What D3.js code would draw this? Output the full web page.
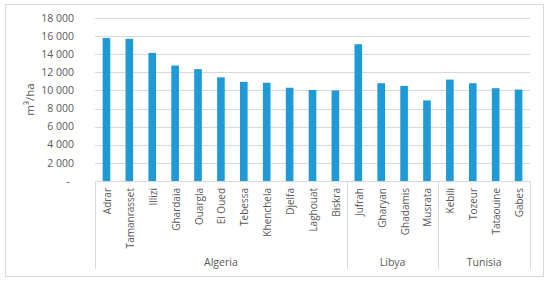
<!DOCTYPE html>
<html><head><meta charset="utf-8">
<script src="https://cdn.jsdelivr.net/npm/d3@7"></script>
<style>body{margin:0;background:#fff}svg{display:block}text{font-family:"Open Sans",sans-serif;fill:#595959}</style>
</head><body>
<script>
const categories = ["Adrar","Tamanrasset","Illizi","Ghardaia","Ouargla","El Oued","Tebessa","Khenchela","Djelfa","Laghouat","Biskra","Jufrah","Gharyan","Ghadamis","Musrata","Kebili","Tozeur","Tataouine","Gabes"];
const countries = ["Algeria","Algeria","Algeria","Algeria","Algeria","Algeria","Algeria","Algeria","Algeria","Algeria","Algeria","Libya","Libya","Libya","Libya","Tunisia","Tunisia","Tunisia","Tunisia"];
const values = [15800,15700,14150,12750,12350,11450,10950,10850,10300,10050,10000,15100,10800,10500,8900,11200,10800,10250,10100];
const yTicks = [0,2000,4000,6000,8000,10000,12000,14000,16000,18000];
const yTitle = "m³/ha";

(function(){
const W=550,H=282;
const svg=d3.select("body").append("svg").attr("width",W).attr("height",H);
svg.append("rect").attr("x",5.5).attr("y",4.5).attr("width",538).attr("height",272).attr("fill","#fff").attr("stroke","#d9d9d9");

const pL=95,pR=530,pT=18,pB=181;
const x=d3.scaleBand().domain(categories).range([pL,pR]).paddingInner(0.667).paddingOuter(0.333);
const xb=d3.scaleBand().domain(categories).range([pL,pR]);
const y=d3.scaleLinear().domain([0,18000]).range([pB,pT]);

svg.append("g").selectAll("line").data(yTicks.filter(d=>d>0)).join("line")
 .attr("x1",pL).attr("x2",pR).attr("y1",d=>Math.round(y(d))+0.5).attr("y2",d=>Math.round(y(d))+0.5)
 .attr("stroke","#d9d9d9");

const fmt=d=>d===0?"-":d3.format(",")(d).replace(/,/g," ");
svg.append("g").selectAll("text").data(yTicks).join("text")
 .attr("x",d=>d===0?70:74).attr("y",d=>y(d)).attr("dy","0.35em").attr("text-anchor","end")
 .attr("font-size","10.5px").text(fmt);

svg.append("text").attr("transform",`translate(34,${(pT+pB)/2}) rotate(-90)`).attr("text-anchor","middle")
 .attr("font-size","11.5px").text(yTitle);

svg.append("g").selectAll("rect").data(categories).join("rect")
 .attr("x",d=>x(d)).attr("width",x.bandwidth())
 .attr("y",(d,i)=>y(values[i])).attr("height",(d,i)=>pB-y(values[i]))
 .attr("fill","#1e9bd7");

svg.append("line").attr("x1",pL).attr("x2",pR).attr("y1",pB+0.5).attr("y2",pB+0.5).attr("stroke","#d9d9d9");

svg.append("g").selectAll("text").data(categories).join("text")
 .attr("transform",d=>`translate(${xb(d)+xb.bandwidth()/2+1},188) rotate(-90)`)
 .attr("text-anchor","end").attr("dy","0.35em").attr("font-size","10px").text(d=>d);

const groups=[...new Set(countries)];
const bounds=groups.map(g=>{const idx=countries.map((c,i)=>c===g?i:-1).filter(i=>i>=0);return {g,start:xb(categories[idx[0]]),end:xb(categories[idx[idx.length-1]])+xb.bandwidth()};});
const seps=[pL,...bounds.map(b=>b.end)];
svg.append("g").selectAll("line").data(seps).join("line")
 .attr("x1",d=>Math.round(d)+0.5).attr("x2",d=>Math.round(d)+0.5).attr("y1",pB).attr("y2",269)
 .attr("stroke","#d9d9d9");
svg.append("g").selectAll("text").data(bounds).join("text")
 .attr("x",d=>(d.start+d.end)/2).attr("y",262).attr("dy","0.35em").attr("text-anchor","middle")
 .attr("font-size","10.5px").text(d=>d.g);
})();
</script>
</body></html>
